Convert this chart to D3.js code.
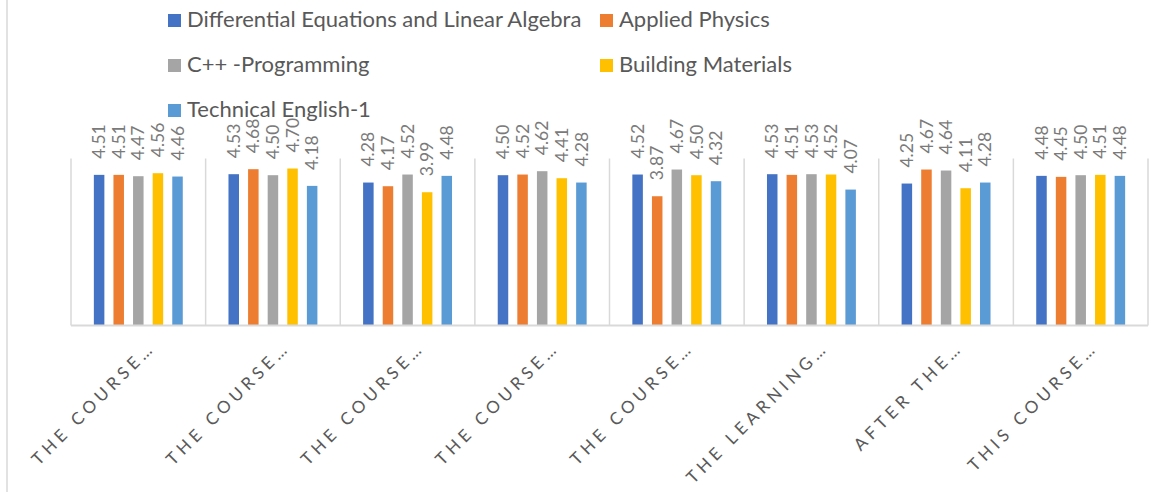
<!DOCTYPE html>
<html>
<head>
<meta charset="utf-8">
<script src="https://cdn.jsdelivr.net/npm/d3@7"></script>
<style>
  body { margin: 0; background: #fff; }
  svg { display: block; font-family: Lato, "Open Sans", sans-serif; }
</style>
</head>
<body>
<div id="chart"></div>
<script>
// chart data
var categories = ["THE COURSE\u2026", "THE COURSE\u2026", "THE COURSE\u2026", "THE COURSE\u2026",
                  "THE COURSE\u2026", "THE LEARNING\u2026", "AFTER THE\u2026", "THIS COURSE\u2026"];
var seriesNames = ["Differential Equations and Linear Algebra", "Applied Physics",
                   "C++ -Programming", "Building Materials", "Technical English-1"];
var seriesColors = ["#4472C4", "#ED7D31", "#A5A5A5", "#FFC000", "#5B9BD5"];

var diffEq    = [4.51, 4.53, 4.28, 4.50, 4.52, 4.53, 4.25, 4.48];
var physics   = [4.51, 4.68, 4.17, 4.52, 3.87, 4.51, 4.67, 4.45];
var cpp       = [4.47, 4.50, 4.52, 4.62, 4.67, 4.53, 4.64, 4.50];
var building  = [4.56, 4.70, 3.99, 4.41, 4.50, 4.52, 4.11, 4.51];
var english   = [4.46, 4.18, 4.48, 4.28, 4.32, 4.07, 4.28, 4.48];
var seriesValues = [diffEq, physics, cpp, building, english];

var width = 1168, height = 492;
var margin = {top: 158.5, left: 71, right: 20, bottom: 166.5};

var svg = d3.select("#chart").append("svg")
    .attr("width", width).attr("height", height);

// chart border (only the left edge shows)
svg.append("line")
    .attr("x1", 7).attr("x2", 7).attr("y1", 0).attr("y2", height)
    .style("stroke", "#d9d9d9").style("stroke-width", 1.5);

var x0 = d3.scaleBand().domain(d3.range(categories.length))
    .range([margin.left, width - margin.right]);
var x1 = d3.scaleBand().domain(d3.range(seriesNames.length))
    .range([0, x0.bandwidth()]).paddingInner(0.464).paddingOuter(1.166);
var y = d3.scaleLinear().domain([0, 5]).range([height - margin.bottom, margin.top]);

// category separators
svg.append("g").selectAll("line")
    .data(d3.range(categories.length + 1))
    .enter().append("line")
    .attr("x1", function(i) { return i < categories.length ? x0(i) : x0(i - 1) + x0.bandwidth(); })
    .attr("x2", function(i) { return i < categories.length ? x0(i) : x0(i - 1) + x0.bandwidth(); })
    .attr("y1", y(5)).attr("y2", y(0))
    .style("stroke", "#d9d9d9").style("stroke-width", 1.5);

// bars + labels
var groups = svg.append("g").selectAll("g")
    .data(d3.range(categories.length))
    .enter().append("g")
    .attr("transform", function(c) { return "translate(" + x0(c) + ",0)"; });

groups.selectAll("rect")
    .data(function(c) { return seriesValues.map(function(vals, s) { return {s: s, v: vals[c]}; }); })
    .enter().append("rect")
    .attr("x", function(d) { return x1(d.s); })
    .attr("width", x1.bandwidth())
    .attr("y", function(d) { return y(d.v); })
    .attr("height", function(d) { return y(0) - y(d.v); })
    .style("fill", function(d) { return seriesColors[d.s]; });

groups.selectAll("text")
    .data(function(c) { return seriesValues.map(function(vals, s) { return {s: s, v: vals[c]}; }); })
    .enter().append("text")
    .attr("transform", function(d) {
        return "translate(" + (x1(d.s) + x1.bandwidth() / 2) + "," + (y(d.v) - 16) + ") rotate(-90)";
    })
    .attr("dy", "0.35em")
    .style("font-size", "17.5px")
    .style("fill", "#7a7a7a")
    .text(function(d) { return d3.format(".2f")(d.v); });

// baseline
svg.append("line")
    .attr("x1", x0(0)).attr("x2", x0(categories.length - 1) + x0.bandwidth())
    .attr("y1", y(0)).attr("y2", y(0))
    .style("stroke", "#d9d9d9").style("stroke-width", 2);

// category labels
svg.append("g").selectAll("text")
    .data(categories)
    .enter().append("text")
    .attr("transform", function(d, i) {
        return "translate(" + (x0(i) + x0.bandwidth() / 2 + 18) + "," + (y(0) + 23) + ") rotate(-45)";
    })
    .style("text-anchor", "end")
    .style("font-size", "17px")
    .style("letter-spacing", "4.5px")
    .style("fill", "#595959")
    .text(function(d) { return d; });

// legend
var legendPos = [[168, 27], [600, 27], [168, 72], [600, 72], [168, 117]];
var legend = svg.append("g").selectAll("g")
    .data(seriesNames)
    .enter().append("g")
    .attr("transform", function(d, i) { return "translate(" + legendPos[i][0] + "," + legendPos[i][1] + ")"; });
legend.append("rect")
    .attr("x", 0).attr("y", -13).attr("width", 13).attr("height", 13)
    .style("fill", function(d, i) { return seriesColors[i]; });
legend.append("text")
    .attr("x", 19)
    .style("font-size", "22px")
    .style("fill", "#595959")
    .text(function(d) { return d; });
</script>
</body>
</html>
